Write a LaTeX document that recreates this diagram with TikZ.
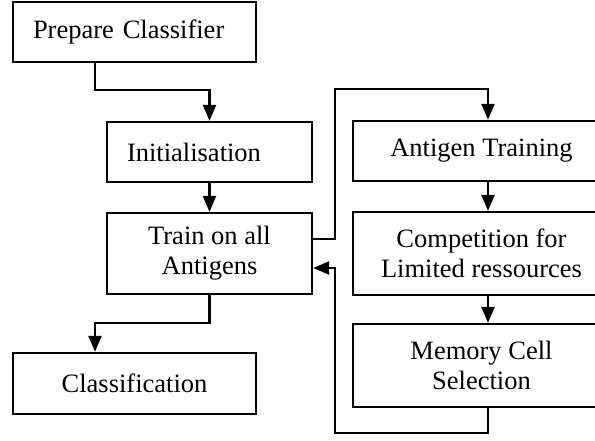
\documentclass[tikz,border=0pt]{standalone}
\usepackage{fontspec}
\setmainfont{Liberation Serif}
\usetikzlibrary{arrows.meta}
\begin{document}
\begin{tikzpicture}[x=1pt,y=-1pt,
  box/.style={draw,line width=2.3pt,rectangle,inner sep=0pt,align=center,
    font=\fontsize{26.5}{30}\selectfont},
  lbox/.style={box,align=left},
  conn/.style={line width=2.3pt},
  arr/.style={conn,-{Triangle[length=16pt,width=13pt]}}]
\useasboundingbox (0,0) rectangle (595,441);
\begin{scope}
\clip (0,0) rectangle (595,441);
% left column
\node[lbox,minimum width=243,minimum height=60,text width=203] (prep) at (134.5,32) {Prepare Classifier};
\node[lbox,minimum width=205,minimum height=60,text width=165] (init) at (209.5,152) {Initialisation};
\node[box,minimum width=205,minimum height=81] (train) at (209.5,253.5) {Train on all\\Antigens};
\node[box,minimum width=243,minimum height=61] (cls) at (134.5,383.5) {Classification};
% right column
\node[box,minimum width=257,minimum height=60] (at) at (481.5,151) {Antigen Training};
\node[box,minimum width=257,minimum height=83] (comp) at (481.5,253.5) {Competition for\\Limited ressources};
\node[box,minimum width=257,minimum height=83] (mem) at (481.5,365.5) {Memory Cell\\Selection};
% helper coordinates
\coordinate (c1) at (95,90);
\coordinate (c2) at (95,323);
\coordinate (c3) at (335,89);
\coordinate (c4) at (488,89);
\coordinate (c5) at (335,239);
\coordinate (c6) at (488,433);
\coordinate (c7) at (335,433);
\coordinate (c8) at (335,268);
% connectors
\draw[arr] (prep.south -| c1) -- (c1) -| (init.north);
\draw[arr] (init.south) -- (train.north);
\draw[arr] (train.south) |- (c2) -- (cls.north -| c2);
\draw[arr] (train.east |- c5) -- (c5) -- (c3) -- (c4) -- (at.north -| c4);
\draw[arr] (at.south -| c4) -- (comp.north -| c4);
\draw[arr] (comp.south -| c4) -- (mem.north -| c4);
\draw[arr] (mem.south -| c6) -- (c6) -- (c7) -- (c8) -- (train.east |- c8);
\end{scope}
\end{tikzpicture}
\end{document}
